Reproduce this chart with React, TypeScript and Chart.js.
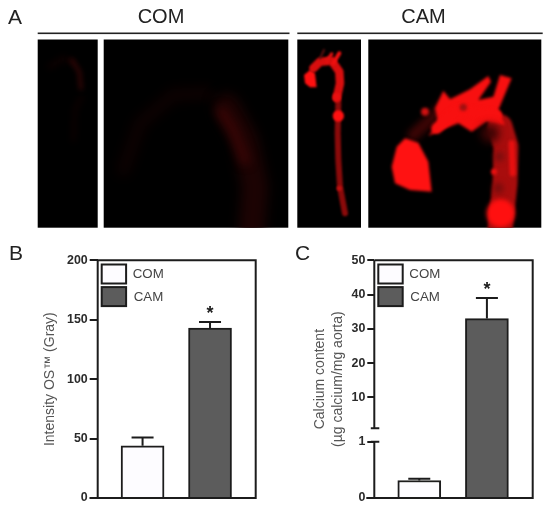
import React, { useEffect, useRef } from "react";
import { Chart, registerables, LinearScale } from "chart.js";

const FONT = "'Liberation Sans', Arial, sans-serif";
const INK = "#1c1c1c";

const categories = ["COM", "CAM"];
const barPositions = [1, 2];
const barColors = ["#fdfcff", "#5c5c5c"];

const intensityValues = [44, 143];
const intensityErrorTops = [51, 148];
const intensitySignificant = [false, true];
const intensityTicks = [0, 50, 100, 150, 200];

const calciumValues = [0.31, 33];
const calciumErrorTops = [0.34, 39];
const calciumSignificant = [false, true];
const calciumTicks = [0, 1, 10, 20, 30, 40, 50];

class BrokenScale extends LinearScale {
  static id = "broken";
  static defaults = LinearScale.defaults;
  frac(v: number) {
    const o: any = this.options;
    if (v <= o.breakValue) return (v / o.breakValue) * o.lowFraction;
    return o.highFraction + ((v - o.breakValue) / (this.max - o.breakValue)) * (1 - o.highFraction);
  }
  getPixelForValue(v: number) {
    return v === null ? NaN : this.bottom - this.frac(v) * (this.bottom - this.top);
  }
  getValueForPixel(p: number) {
    const o: any = this.options;
    const f = (this.bottom - p) / (this.bottom - this.top);
    if (f <= o.lowFraction) return (f / o.lowFraction) * o.breakValue;
    return o.breakValue + ((f - o.highFraction) / (1 - o.highFraction)) * (this.max - o.breakValue);
  }
}

Chart.register(...registerables, BrokenScale);

const figurePlugin = {
  id: "figure",
  afterDatasetsDraw(chart: any, _a: any, opts: any) {
    const { ctx, chartArea: ca, scales } = chart;
    const x = scales.x;
    const y = scales.y;
    ctx.save();
    ctx.strokeStyle = INK;
    ctx.lineWidth = 2;
    ctx.beginPath();
    ctx.moveTo(ca.left, ca.top);
    ctx.lineTo(ca.right, ca.top);
    ctx.lineTo(ca.right, ca.bottom);
    ctx.lineTo(ca.left - 8, ca.bottom);
    for (const [a, b] of opts.axisSegments) {
      ctx.moveTo(ca.left, y.getPixelForValue(a));
      ctx.lineTo(ca.left, y.getPixelForValue(b));
    }
    if (opts.axisSegments.length > 1) {
      for (const seg of opts.axisSegments) {
        const p = y.getPixelForValue(seg[0] === 0 ? seg[1] : seg[0]);
        ctx.moveTo(ca.left - 3.5, p);
        ctx.lineTo(ca.left + 5, p);
      }
    }
    opts.values.forEach((v: number, i: number) => {
      const px = x.getPixelForValue(barPositions[i]);
      const top = y.getPixelForValue(opts.errorTops[i]);
      ctx.moveTo(px, y.getPixelForValue(v));
      ctx.lineTo(px, top);
      ctx.moveTo(px - 11, top);
      ctx.lineTo(px + 11, top);
    });
    ctx.stroke();

    ctx.fillStyle = INK;
    ctx.textAlign = "center";
    ctx.textBaseline = "middle";
    ctx.font = `bold 18px ${FONT}`;
    opts.significant.forEach((s: boolean, i: number) => {
      if (!s) return;
      const px = x.getPixelForValue(barPositions[i]);
      ctx.fillText("*", px, y.getPixelForValue(opts.errorTops[i]) - 8);
    });

    categories.forEach((c, i) => {
      const bx = ca.left + 4;
      const by = ca.top + 4.2 + i * 22.6;
      ctx.fillStyle = barColors[i];
      ctx.fillRect(bx, by, 24.4, 19);
      ctx.strokeRect(bx, by, 24.4, 19);
      ctx.fillStyle = "#444444";
      ctx.textAlign = "left";
      ctx.font = `13.3px ${FONT}`;
      ctx.fillText(c, bx + 31 + (i === 1 ? 1 : 0), by + 9.8);
    });
    ctx.restore();
  },
};

function makeConfig(p: any) {
  return {
    type: "bar",
    plugins: [figurePlugin],
    data: {
      labels: categories,
      datasets: [
        {
          data: barPositions.map((x, i) => ({ x, y: p.values[i] })),
          backgroundColor: barColors,
          borderColor: INK,
          borderWidth: 2,
          barThickness: 43,
        },
      ],
    },
    options: {
      animation: false,
      responsive: false,
      layout: { padding: p.padding },
      plugins: {
        legend: { display: false },
        tooltip: { enabled: false },
        figure: {
          axisSegments: p.axisSegments,
          values: p.values,
          errorTops: p.errorTops,
          significant: p.significant,
        },
      },
      scales: {
        x: { type: "linear", display: false, offset: false, min: 0.335, max: 2.677 },
        y: {
          type: p.scaleType,
          min: 0,
          max: p.ticks[p.ticks.length - 1],
          ...p.scaleOptions,
          afterBuildTicks: (a: any) => {
            a.ticks = p.ticks.map((value: number) => ({ value }));
          },
          afterFit: (a: any) => {
            a.width = p.axisWidth;
          },
          border: { display: false },
          grid: {
            drawOnChartArea: false,
            drawTicks: true,
            tickLength: p.tickLength,
            tickColor: INK,
            tickWidth: 2,
            lineWidth: 2,
            color: INK,
          },
          ticks: {
            autoSkip: false,
            color: "#2b2b2b",
            padding: 2,
            font: { family: FONT, size: 12.4, weight: "bold" },
          },
          title: {
            display: true,
            text: p.title,
            color: "#555555",
            padding: { top: p.titlePad, bottom: 0 },
            font: { family: FONT, size: 14, lineHeight: p.titleLine },
          },
        },
      },
    },
  } as any;
}

type Pt = [number, number];

function shape(ctx: CanvasRenderingContext2D, pts: Pt[], ox: number, color: string, blur: number) {
  ctx.filter = `blur(${blur}px)`;
  ctx.fillStyle = color;
  ctx.beginPath();
  pts.forEach(([x, y], i) => {
    const px = ox + x / 3;
    const py = y / 3;
    if (i === 0) ctx.moveTo(px, py);
    else ctx.lineTo(px, py);
  });
  ctx.closePath();
  ctx.fill();
  ctx.filter = "none";
}

function stroke(ctx: CanvasRenderingContext2D, pts: Pt[], ox: number, color: string, width: number, blur: number) {
  ctx.filter = `blur(${blur}px)`;
  ctx.strokeStyle = color;
  ctx.lineWidth = width;
  ctx.lineCap = "round";
  ctx.lineJoin = "round";
  ctx.beginPath();
  pts.forEach(([x, y], i) => {
    const px = ox + x / 3;
    const py = y / 3;
    if (i === 0) ctx.moveTo(px, py);
    else ctx.lineTo(px, py);
  });
  ctx.stroke();
  ctx.filter = "none";
}

function blob(ctx: CanvasRenderingContext2D, x: number, y: number, r: number, ox: number, color: string, blur: number) {
  ctx.filter = `blur(${blur}px)`;
  ctx.fillStyle = color;
  ctx.beginPath();
  ctx.arc(ox + x / 3, y / 3, r / 3, 0, Math.PI * 2);
  ctx.fill();
  ctx.filter = "none";
}

function panel(ctx: CanvasRenderingContext2D, x0: number, x1: number, draw: () => void) {
  const top = 39.5;
  const bottom = 227.7;
  ctx.save();
  ctx.fillStyle = "#000000";
  ctx.fillRect(x0, top, x1 - x0, bottom - top);
  ctx.beginPath();
  ctx.rect(x0, top, x1 - x0, bottom - top);
  ctx.clip();
  draw();
  ctx.restore();
}

function drawPanelA(ctx: CanvasRenderingContext2D) {
  ctx.fillStyle = "#ffffff";
  ctx.fillRect(0, 0, 550, 516);

  panel(ctx, 37.7, 97.7, () => {
    stroke(ctx, [[150, 200], [190, 175], [225, 190]], 0, "#0e0101", 5, 3);
    stroke(ctx, [[245, 290], [225, 330], [220, 420]], 0, "#0e0101", 4, 3);
    stroke(ctx, [[215, 180], [238, 215], [243, 265]], 0, "#300505", 4, 2.5);
  });
  panel(ctx, 103.7, 288.3, () => {
    stroke(ctx, [[370, 510], [420, 370], [520, 285], [620, 280]], 0, "#0d0101", 13, 6);
    stroke(ctx, [[680, 320], [735, 420], [765, 560], [755, 690]], 0, "#1c0303", 26, 6);
    stroke(ctx, [[665, 335], [700, 390], [735, 480]], 0, "#380505", 10, 5);
  });

  const cx = 290;
  panel(ctx, 297.3, 361, () => {
    stroke(ctx, [[145, 300], [143, 400], [145, 480], [150, 560], [165, 640]], cx, "#8a0a0a", 6, 1.2);
    stroke(ctx, [[70, 205], [90, 185], [125, 182], [148, 215], [150, 250], [140, 295]], cx, "#d80e0e", 8.5, 1.2);
    shape(ctx, [[42, 225], [60, 210], [75, 220], [80, 262], [60, 262], [45, 250]], cx, "#ff1010", 1);
    stroke(ctx, [[110, 185], [125, 162]], cx, "#e01010", 3.5, 0.8);
    stroke(ctx, [[130, 190], [148, 160]], cx, "#f01010", 4, 0.8);
    stroke(ctx, [[90, 175], [102, 150]], cx, "#601010", 2, 0.8);
    blob(ctx, 145, 348, 17, cx, "#ff1010", 1.2);
    blob(ctx, 140, 290, 12, cx, "#e81010", 1.2);
    blob(ctx, 148, 565, 8, cx, "#c01010", 1);
  });
  panel(ctx, 368.3, 541.3, () => {
    stroke(ctx, [[370, 405], [420, 360], [470, 310]], cx, "#3a0404", 12, 3);
    stroke(ctx, [[630, 380], [648, 440], [645, 550], [630, 690]], cx, "#a80d0d", 25, 1.5);
    shape(ctx, [[345, 415], [385, 428], [415, 485], [425, 575], [360, 570], [315, 550], [305, 500], [320, 440]], cx, "#ff1212", 1.5);
    shape(ctx, [[415, 408], [445, 370], [435, 325], [460, 272], [480, 298], [540, 268], [595, 228], [603, 245], [565, 300], [610, 290], [630, 225], [665, 235], [625, 330], [645, 375], [590, 365], [545, 395], [505, 370], [460, 388]], cx, "#f81010", 1.6);
    stroke(ctx, [[440, 385], [500, 330], [620, 345]], cx, "#f81010", 11, 1.5);
    blob(ctx, 405, 335, 12, cx, "#d01010", 1.5);
    blob(ctx, 600, 400, 28, cx, "#3c0404", 4);
    blob(ctx, 628, 470, 13, cx, "#6c0e0e", 3);
    blob(ctx, 625, 565, 15, cx, "#700c0c", 3);
    blob(ctx, 520, 322, 11, cx, "#a01010", 1.5);
    blob(ctx, 632, 640, 42, cx, "#ff1010", 2);
    blob(ctx, 612, 515, 9, cx, "#f01010", 1.5);
    stroke(ctx, [[665, 430], [668, 520]], cx, "#e81010", 6, 1.5);
  });

  ctx.fillStyle = "#222222";
  ctx.fillRect(37.7, 32.5, 251.8, 1.6);
  ctx.fillRect(297.3, 32.5, 245.4, 1.6);

  ctx.textBaseline = "alphabetic";
  ctx.textAlign = "center";
  ctx.font = `20px ${FONT}`;
  ctx.fillText("COM", 161, 22.7);
  ctx.fillText("CAM", 423.5, 22.7);
  ctx.textAlign = "left";
  ctx.font = `21px ${FONT}`;
  ctx.fillText("A", 8, 24);
  ctx.fillText("B", 9, 259.5);
  ctx.fillText("C", 295, 259.5);
}

const pos = (left: number, top: number): React.CSSProperties => ({ position: "absolute", left, top, display: "block" });

export default function App() {
  const bgRef = useRef<HTMLCanvasElement>(null);
  const bRef = useRef<HTMLCanvasElement>(null);
  const cRef = useRef<HTMLCanvasElement>(null);

  useEffect(() => {
    drawPanelA(bgRef.current!.getContext("2d")!);
    const b = new Chart(
      bRef.current!,
      makeConfig({
        values: intensityValues,
        errorTops: intensityErrorTops,
        significant: intensitySignificant,
        ticks: intensityTicks,
        scaleType: "linear",
        scaleOptions: {},
        axisSegments: [[0, 200]],
        padding: { top: 10.3, right: 9.3, bottom: 12, left: 0 },
        axisWidth: 67.7,
        tickLength: 8,
        title: "Intensity OS\u2122 (Gray)",
        titlePad: 11.5,
        titleLine: 1.2,
      })
    );
    const c = new Chart(
      cRef.current!,
      makeConfig({
        values: calciumValues,
        errorTops: calciumErrorTops,
        significant: calciumSignificant,
        ticks: calciumTicks,
        scaleType: "broken",
        scaleOptions: { breakValue: 1, lowFraction: 0.237, highFraction: 0.293 },
        axisSegments: [[0, 1], [1.0001, 50]],
        padding: { top: 10.3, right: 7.3, bottom: 12, left: 0 },
        axisWidth: 74.3,
        tickLength: 7,
        title: ["Calcium content", "(\u00b5g calcium/mg aorta)"],
        titlePad: 11.1,
        titleLine: 1.27,
      })
    );
    return () => {
      b.destroy();
      c.destroy();
    };
  }, []);

  return (
    <div style={{ position: "absolute", left: 0, top: 0, width: 550, height: 516, background: "#fff", overflow: "hidden" }}>
      <canvas ref={bgRef} width={550} height={516} style={pos(0, 0)} />
      <canvas ref={bRef} width={235} height={260} style={{ ...pos(30, 250), width: 235, height: 260 }} />
      <canvas ref={cRef} width={240} height={260} style={{ ...pos(300, 250), width: 240, height: 260 }} />
    </div>
  );
}
